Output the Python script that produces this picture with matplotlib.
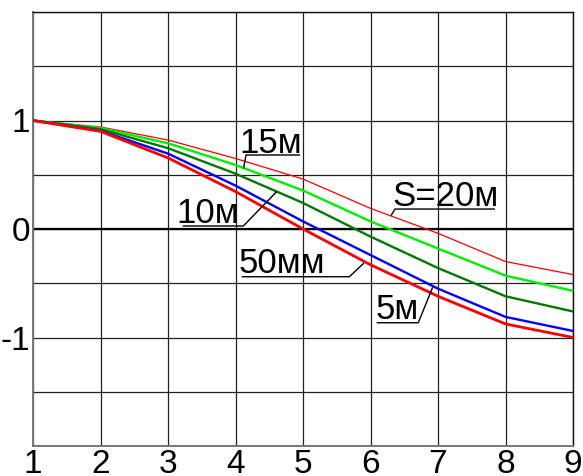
import matplotlib
matplotlib.use("Agg")
import matplotlib.pyplot as plt
import numpy as np

x = [1, 2, 3, 4, 5, 6, 7, 8, 9]
s20 = [1.0, 0.94, 0.82, 0.65, 0.46, 0.19, -0.04, -0.30, -0.42]
s15 = [1.0, 0.93, 0.79, 0.59, 0.355, 0.07, -0.18, -0.43, -0.57]
s10 = [1.0, 0.92, 0.745, 0.51, 0.24, -0.07, -0.36, -0.62, -0.76]
s5 = [1.0, 0.905, 0.695, 0.40, 0.07, -0.24, -0.55, -0.81, -0.94]
s50mm = [1.0, 0.90, 0.655, 0.345, 0.0, -0.33, -0.62, -0.875, -1.0]

xticks = [1, 2, 3, 4, 5, 6, 7, 8, 9]
yticks = [-2, -1.5, -1, -0.5, 0, 0.5, 1, 1.5, 2]
ylabels = ['', '', '-1', '', '0', '', '1', '', '']

plt.rcParams['font.family'] = ['Liberation Sans', 'DejaVu Sans']

fig = plt.figure(figsize=(5.83, 4.76), dpi=100)
ax = fig.add_axes([33/583, 30/476, 540/583, 434/476])
ax.set_xlim(1, 9)
ax.set_ylim(-2, 2)

for xv in xticks:
    ax.axvline(xv, color='#222222', lw=0.9, zorder=1)
for yv in yticks:
    ax.axhline(yv, color='#222222', lw=0.9, zorder=1)
ax.axhline(0, color='black', lw=1.6, zorder=2)

ax.plot(x, s20, color='#ff0000', lw=0.9, zorder=3)
ax.plot(x, s15, color='#00ee00', lw=1.7, zorder=3)
ax.plot(x, s10, color='#007a00', lw=1.7, zorder=3)
ax.plot(x, s5, color='#0000ff', lw=1.7, zorder=3)
ax.plot(x, s50mm, color='#ff0000', lw=2.0, zorder=3)

ax.set_xticks(xticks)
ax.set_xticklabels([str(v) for v in xticks], fontsize=24)
ax.set_yticks(yticks)
ax.set_yticklabels(ylabels, fontsize=24)
ax.tick_params(length=0, pad=2)
for side in ['left', 'bottom']:
    ax.spines[side].set_color('#777777')
    ax.spines[side].set_linewidth(1.4)
for side in ['top', 'right']:
    ax.spines[side].set_color('#111111')
    ax.spines[side].set_linewidth(1.0)

def label(txt, tx, ty, pts):
    ax.text(tx, ty, txt, fontsize=25, ha='left', va='baseline', zorder=5)
    px, py = zip(*pts)
    ax.plot(px, py, color='black', lw=1.0, zorder=5, solid_capstyle='butt')

label('15м', 4.05, 0.70, [(4.119, 0.558), (4.156, 0.682), (4.956, 0.682)])
label('10м', 3.13, 0.052, [(4.610, 0.344), (4.116, 0.028), (3.218, 0.028)])
label('S=20м', 6.32, 0.212, [(6.304, 0.124), (6.363, 0.184), (7.844, 0.184)])
label('50мм', 4.05, -0.405, [(5.904, -0.313), (5.686, -0.44), (4.092, -0.44)])
label('5м', 6.07, -0.834, [(6.921, -0.537), (6.708, -0.864), (6.092, -0.864)])

fig.savefig('out.png', dpi=100)
